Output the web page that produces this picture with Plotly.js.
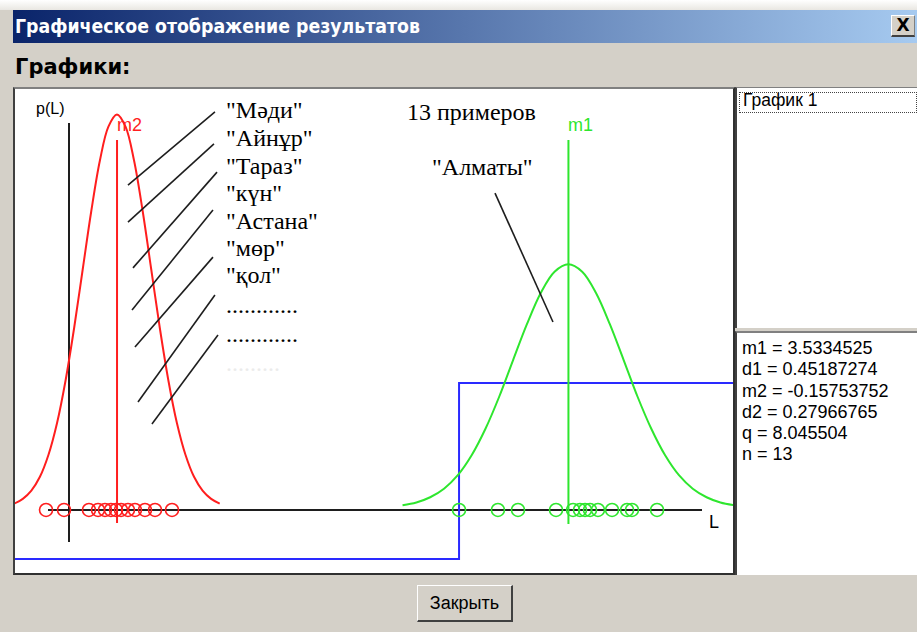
<!DOCTYPE html>
<html><head><meta charset="utf-8">
<script src="https://cdn.plot.ly/plotly-3.0.1.min.js"></script>
<style>
html,body{margin:0;padding:0;}
body{width:917px;height:632px;background:#d4d0c8;position:relative;overflow:hidden;font-family:"Liberation Sans",Arial,sans-serif;}
#top{position:absolute;left:0;top:0;width:917px;height:10px;background:linear-gradient(#ffffff,#e9e7e2);}
#titlebar{position:absolute;left:13px;top:10px;width:904px;height:33px;background:linear-gradient(to right,#0a246a,#a6caf0);}
#titletext{position:absolute;left:2px;top:0;line-height:33px;color:#fff;font-weight:bold;font-size:20px;font-family:"DejaVu Sans",sans-serif;white-space:nowrap;transform-origin:0 50%;}
#closebtn{position:absolute;left:891px;top:15px;width:24px;height:22px;background:#d4d0c8;border-top:1px solid #fff;border-left:1px solid #fff;border-bottom:2px solid #404040;border-right:1px solid #808080;box-sizing:border-box;font:bold 17px "DejaVu Sans",sans-serif;line-height:19px;text-align:center;color:#000;}
#graphs{position:absolute;left:15px;top:57px;font-weight:bold;font-size:21px;line-height:21px;font-family:"DejaVu Sans",sans-serif;color:#000;}
#frame{position:absolute;left:13px;top:87px;width:718px;height:484px;border-left:2px solid #404040;border-top:2px solid #808080;border-right:2px solid #303030;border-bottom:2px solid #303030;background:#fff;}
#plot{position:absolute;left:0;top:0;width:718px;height:484px;}
#listbox{position:absolute;left:735px;top:87px;width:182px;height:241px;background:#fff;border-left:2px solid #404040;border-top:1px solid #808080;box-sizing:border-box;}
#focus{position:absolute;left:2px;top:4px;width:178px;height:21px;border:1px dotted #444;box-sizing:border-box;}
#listitem{position:absolute;left:6px;top:2px;font-size:17.5px;line-height:21px;color:#000;white-space:nowrap;}
#stats{position:absolute;left:735px;top:331px;width:182px;height:244px;background:#fff;border-left:2px solid #404040;border-top:2px solid #808080;box-sizing:border-box;}
#statstext{position:absolute;left:5px;top:5px;font-size:18px;line-height:21.3px;color:#000;white-space:pre;}
#btn{position:absolute;left:417px;top:585px;width:96px;height:37px;box-sizing:border-box;background:#d4d0c8;border-top:1px solid #fff;border-left:1px solid #fff;border-right:2px solid #404040;border-bottom:2px solid #404040;display:flex;align-items:center;justify-content:center;font-size:18px;color:#000;}
</style></head>
<body>
<div id="top"></div>
<div id="titlebar"><div id="titletext">Графическое отображение результатов</div></div>
<div id="closebtn">X</div>
<div id="graphs">Графики:</div>
<div id="frame"><div id="plot"></div></div>
<div id="listbox"><div id="focus"></div><div id="listitem">График 1</div></div>
<div id="stats"><div id="statstext"></div></div>
<div id="btn">Закрыть</div>
<script>
// ---- values ----
const m1 = 3.5334525, d1 = 0.45187274, m2 = -0.15753752, d2 = 0.27966765, q = 8.045504, nSamples = 13;

const redCurveL = [-0.998,-0.928,-0.858,-0.788,-0.718,-0.648,-0.578,-0.508,-0.438,-0.368,-0.298,-0.228,-0.158,-0.088,-0.018,0.052,0.122,0.192,0.262,0.332,0.402,0.472,0.542,0.612,0.682];
const redCurveP = [0.016,0.033,0.063,0.113,0.193,0.308,0.463,0.653,0.865,1.076,1.258,1.382,1.426,1.382,1.258,1.076,0.865,0.653,0.463,0.308,0.193,0.113,0.063,0.033,0.016];

const greenCurveL = [2.177,2.290,2.403,2.516,2.629,2.742,2.855,2.968,3.081,3.194,3.307,3.420,3.533,3.646,3.759,3.872,3.985,4.098,4.211,4.324,4.437,4.550,4.663,4.776,4.889];
const greenCurveP = [0.010,0.020,0.039,0.070,0.119,0.191,0.287,0.404,0.536,0.666,0.779,0.856,0.883,0.856,0.779,0.666,0.536,0.404,0.287,0.191,0.119,0.070,0.039,0.020,0.010];

const redSamplesL = [-0.738,-0.591,-0.387,-0.313,-0.256,-0.207,-0.166,-0.125,-0.068,-0.011,0.071,0.153,0.292];
const greenSamplesL = [2.639,2.957,3.121,3.432,3.571,3.628,3.669,3.710,3.775,3.890,4.013,4.053,4.258];

const stepL = [-1.0, 2.639, 4.95];
const stepP = [-0.185, 0.453, 0.453];

const wordLabels = ['"Мәди"','"Айнұр"','"Тараз"','"күн"','"Астана"','"мөр"','"қол"','............','............','.........'];
const headerLabel = '13 примеров';
const cityLabel = '"Алматы"';

// pointer lines (start L, start p, end L, end p)
const hatchL0 = [-0.068,-0.068,-0.027,-0.035,-0.011,0.014,0.128];
const hatchP0 = [1.170,1.036,0.870,0.717,0.583,0.384,0.304];
const hatchL1 = [0.643,0.635,0.660,0.627,0.627,0.643,0.668];
const hatchP1 = [1.435,1.319,1.217,1.080,0.909,0.772,0.627];
const cityLineL = [2.933, 3.407];
const cityLineP = [1.141, 0.674];

// ---- drawing ----
const RED = '#ff1e1e', GREEN = '#2ee62e', BLUE = '#2a2aff', INK = '#1e1e1e';
const axisP = -0.007;
const xRange = [-0.9918, 4.879], yRange = [-0.2355, 1.5181];
// page-pixel helpers for text placement inside the plot
const Lx = px => (px - 136.3) / 122.3;
const Py = py => (508 - py) / 276;

document.getElementById('statstext').textContent =
  'm1 = ' + m1 + '\nd1 = ' + d1 + '\nm2 = ' + m2 + '\nd2 = ' + d2 + '\nq = ' + q + '\nn = ' + nSamples;

const traces = [
  {x: stepL, y: stepP, mode:'lines', line:{shape:'hv', color:BLUE, width:2}},
  {x: redCurveL, y: redCurveP, mode:'lines', line:{shape:'spline', color:RED, width:2}},
  {x: greenCurveL, y: greenCurveP, mode:'lines', line:{shape:'spline', color:GREEN, width:2}},
  {x: redSamplesL, y: redSamplesL.map(() => axisP), mode:'markers',
   marker:{symbol:'circle-open', size:13, color:RED, line:{width:1.6, color:RED}}},
  {x: greenSamplesL, y: greenSamplesL.map(() => axisP), mode:'markers',
   marker:{symbol:'circle-open', size:13, color:GREEN, line:{width:1.6, color:GREEN}}}
];

const shapes = [
  // axes
  {type:'line', x0:Lx(48), x1:Lx(702), y0:axisP, y1:axisP, line:{color:INK, width:2}, layer:'below'},
  {type:'line', x0:Lx(69), x1:Lx(69), y0:Py(542), y1:Py(123), line:{color:INK, width:2}, layer:'below'},
  // mean lines
  {type:'line', x0:m2, x1:m2, y0:Py(523), y1:Py(140), line:{color:RED, width:2}},
  {type:'line', x0:m1, x1:m1, y0:Py(524), y1:Py(140), line:{color:GREEN, width:2}},
  {type:'line', x0:cityLineL[0], x1:cityLineL[1], y0:cityLineP[0], y1:cityLineP[1], line:{color:INK, width:1.6}}
];
hatchL0.forEach((v, i) => shapes.push({type:'line', x0:v, y0:hatchP0[i], x1:hatchL1[i], y1:hatchP1[i], line:{color:INK, width:1.6}}));

const serif = '"Liberation Serif","DejaVu Serif",serif';
const sans = '"Liberation Sans",Arial,sans-serif';
const ann = [];
const wordY = [110,138,166,193,221,248,275,305,334,363];
wordLabels.forEach((t, i) => ann.push({x:Lx(224), y:Py(wordY[i]), text:t, showarrow:false, xanchor:'left', yanchor:'middle',
  font:{family:serif, size:24, color: i === wordLabels.length - 1 ? '#ebebeb' : '#000'}}));
ann.push({x:Lx(405), y:Py(112), text:headerLabel, showarrow:false, xanchor:'left', yanchor:'middle', font:{family:serif, size:24, color:'#000'}});
ann.push({x:Lx(430), y:Py(167), text:cityLabel, showarrow:false, xanchor:'left', yanchor:'middle', font:{family:serif, size:24, color:'#000'}});
ann.push({x:Lx(50), y:Py(108), text:'p(L)', showarrow:false, xanchor:'center', yanchor:'middle', font:{family:sans, size:16, color:'#000'}});
ann.push({x:Lx(714), y:Py(522), text:'L', showarrow:false, xanchor:'center', yanchor:'middle', font:{family:sans, size:18, color:'#000'}});
ann.push({x:m2, y:Py(125), text:'m2', showarrow:false, xanchor:'left', yanchor:'middle', xshift:-2, font:{family:sans, size:18, color:RED}});
ann.push({x:m1, y:Py(125), text:'m1', showarrow:false, xanchor:'left', yanchor:'middle', xshift:-2, font:{family:sans, size:18, color:GREEN}});

const layout = {
  width:718, height:484, margin:{l:0,r:0,t:0,b:0},
  paper_bgcolor:'#fff', plot_bgcolor:'#fff', showlegend:false,
  xaxis:{range:xRange, visible:false, fixedrange:true},
  yaxis:{range:yRange, visible:false, fixedrange:true},
  shapes:shapes, annotations:ann
};
Plotly.newPlot('plot', traces, layout, {staticPlot:true, displayModeBar:false});

// fit title width to the reference
const tt = document.getElementById('titletext');
const w = tt.getBoundingClientRect().width;
tt.style.transform = 'scaleX(' + (405 / w) + ')';
</script>
</body></html>
